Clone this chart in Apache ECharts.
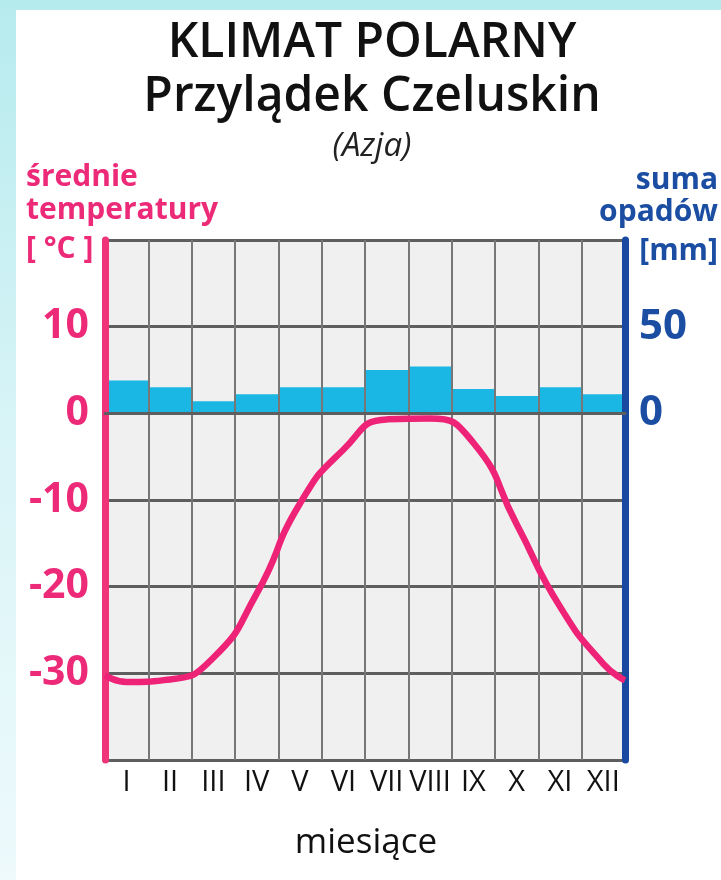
<!DOCTYPE html>
<html><head><meta charset="utf-8">
<script src="https://cdn.jsdelivr.net/npm/echarts@6/dist/echarts.min.js"></script>
<style>
html,body{margin:0;padding:0;width:721px;height:880px;overflow:hidden;}
body{background:linear-gradient(180deg,#b6ebee 0%,#d9f4f7 50%,#eefafc 100%);}
#card{position:absolute;left:16px;top:10px;width:705px;height:870px;background:#fff;}
#chart{position:absolute;left:0;top:0;width:721px;height:880px;}
</style></head>
<body>
<div id="card"></div>
<div id="chart"></div>
<script>
// Data
const months = ['I','II','III','IV','V','VI','VII','VIII','IX','X','XI','XII'];
const precipitation = [19, 15, 7, 11, 15, 15, 25, 27, 14, 10, 15, 11];
const temperature = [-31.0, -30.7, -28.2, -20.8, -10.4, -4.2, -0.7, -0.6, -3.4, -12.8, -22.3, -28.9];
const tempEdgeStart = -30.2; // curve value at the left edge
const tempEdgeEnd = -30.8;   // curve value at the right edge
const tempTicks = [10, 0, -10, -20, -30];
const precipTicks = [50, 0];

const PINK = '#ec2a78', BLUE = '#1b4ea2', BAR = '#1ab6e4';

const linePts = [[0, tempEdgeStart]]
  .concat(temperature.map((v, i) => [i + 0.5, v]))
  .concat([[12, tempEdgeEnd]]);

const chart = echarts.init(document.getElementById('chart'), null, {renderer: 'canvas'});
const font = '"Open Sans", "Noto Sans", sans-serif';
function txt(x, y, text, fill, f, align) {
  return {type: 'text', x: x, y: y, style: {text: text, fill: fill, font: f, textAlign: align, textVerticalAlign: 'top'}};
}
chart.setOption({
  animation: false,
  grid: {left: 105, top: 240, width: 520, height: 520, show: true, backgroundColor: '#f0f0f0', borderWidth: 0},
  xAxis: [{
    type: 'category', data: months, boundaryGap: true, z: 3,
    axisLine: {show: true, lineStyle: {color: '#5e5e5e', width: 3}},
    axisTick: {show: false},
    axisLabel: {color: '#111', fontSize: 29, fontFamily: font, margin: 8, interval: 0},
    splitLine: {show: true, interval: 0, lineStyle: {color: '#777', width: 2}}
  }, {
    type: 'value', min: 0, max: 12, show: false
  }],
  yAxis: [{
    type: 'value', min: -40, max: 20, interval: 10, position: 'left', z: 3,
    axisLine: {show: true, onZero: false, lineStyle: {color: '#ef347a', width: 7}},
    axisTick: {show: false},
    axisLabel: {color: PINK, fontSize: 41, fontWeight: 'bold', fontFamily: font, margin: 16,
      formatter: v => tempTicks.indexOf(v) >= 0 ? String(v) : ''},
    splitLine: {show: true, lineStyle: {color: '#5e5e5e', width: 3}}
  }, {
    type: 'value', min: -200, max: 100, interval: 50, position: 'right', z: 3,
    axisLine: {show: true, onZero: false, lineStyle: {color: '#1848a0', width: 7}},
    axisTick: {show: false},
    axisLabel: {color: BLUE, fontSize: 42, fontWeight: 'bold', fontFamily: font, margin: 14,
      formatter: v => precipTicks.indexOf(v) >= 0 ? String(v) : ''},
    splitLine: {show: false}
  }],
  series: [{
    type: 'bar', xAxisIndex: 0, yAxisIndex: 1, data: precipitation,
    barWidth: '100%', barCategoryGap: 0, z: 2,
    itemStyle: {color: BAR}
  }, {
    type: 'line', xAxisIndex: 1, yAxisIndex: 0, data: linePts,
    smooth: 0.55, showSymbol: false, symbol: 'none', z: 6,
    lineStyle: {color: '#ee2277', width: 6.5}
  }],
  graphic: [
    txt(372, 19, 'KLIMAT POLARNY', '#111', '600 48px ' + font, 'center'),
    txt(372, 73, 'Przylądek Czeluskin', '#111', '600 48px ' + font, 'center'),
    txt(372, 130, '(Azja)', '#222', 'italic 33px ' + font, 'center'),
    txt(26, 162, 'średnie', PINK, 'bold 30px ' + font, 'left'),
    txt(26, 195, 'temperatury', PINK, 'bold 30px ' + font, 'left'),
    txt(26, 234, '[ °C ]', PINK, 'bold 30px ' + font, 'left'),
    txt(718, 165, 'suma', BLUE, 'bold 30px ' + font, 'right'),
    txt(718, 197, 'opadów', BLUE, 'bold 30px ' + font, 'right'),
    txt(718, 236, '[mm]', BLUE, 'bold 30px ' + font, 'right'),
    txt(366, 826, 'miesiące', '#111', '35px ' + font, 'center')
  ]
});
</script>
</body></html>
